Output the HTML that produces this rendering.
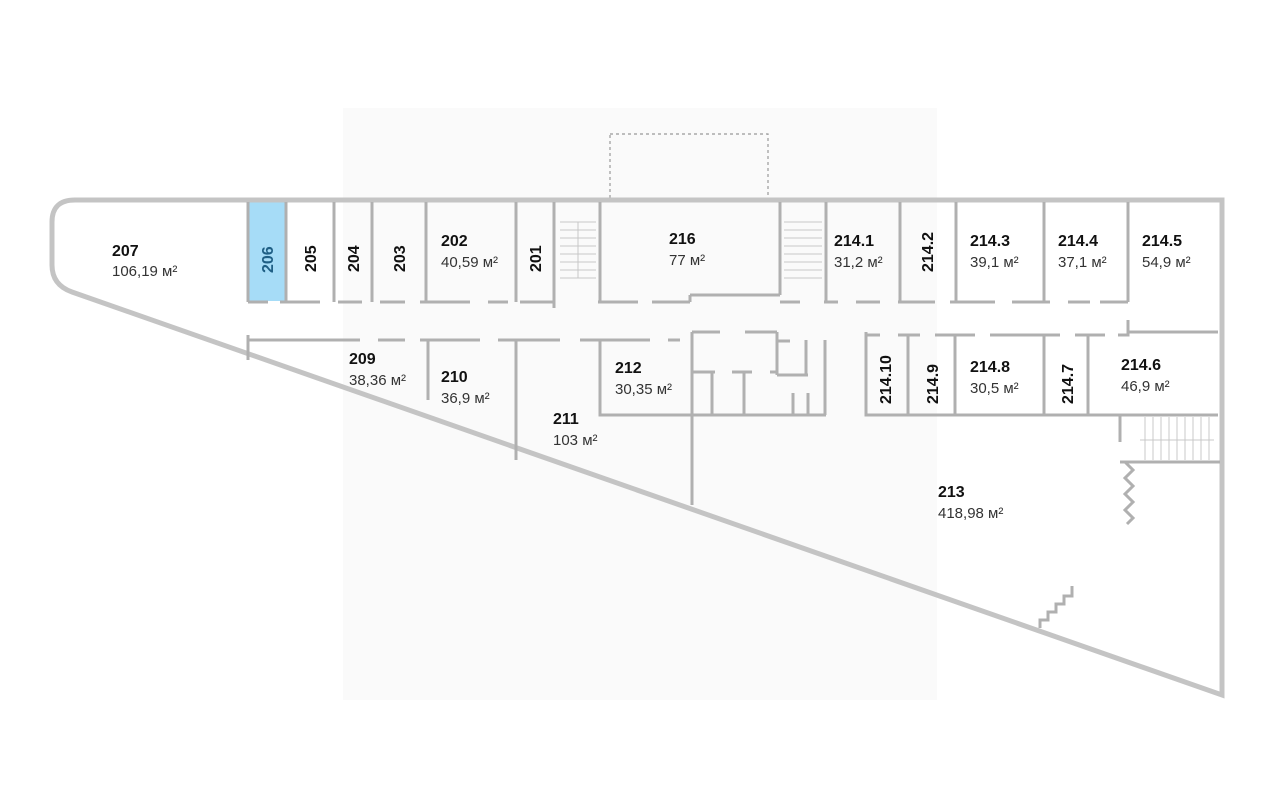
<!DOCTYPE html>
<html><head><meta charset="utf-8"><style>
body{margin:0;background:#fff;width:1280px;height:811px;overflow:hidden}
svg{display:block}
text{font-family:"Liberation Sans",sans-serif;fill:#111}
.b{font-weight:bold;font-size:16px}
.a{font-size:15px;fill:#333}
</style></head><body>
<svg width="1280" height="811" viewBox="0 0 1280 811">
<rect x="343" y="108" width="594" height="592" fill="#fafafa"/>
<rect x="610" y="134" width="158" height="66" fill="none" stroke="#999" stroke-width="1.2" stroke-dasharray="3,3"/>
<rect x="249" y="202" width="36" height="99" fill="#a6dcf7"/>
<g fill="none" stroke="#c4c4c4" stroke-width="5">
<path d="M75 200 H1222 V695 L72 292 Q52 285 52 265 V222 Q52 200 75 200"/>
</g>
<g fill="none" stroke="#b0b0b0" stroke-width="3">
<path d="M248 202V302 M286 202V302 M334 202V302 M372 202V302 M426 202V302 M516 202V302 M554 202V308 M600 202V302 M780 202V295 M826 202V302 M900 202V302 M956 202V302 M1044 202V302 M1128 202V302"/>
<path d="M690 295H780 M690 295V302"/>
<path d="M248 302H268 M280 302H320 M338 302H362 M380 302H405 M420 302H470 M488 302H508 M520 302H554 M598 302H638 M652 302H690 M780 302H800 M824 302H838 M856 302H880 M898 302H935 M950 302H995 M1012 302H1050 M1068 302H1090 M1100 302H1128"/>
<path d="M248 340H360 M378 340H405 M420 340H480 M498 340H560 M580 340H600 M600 340H650 M668 340H680 M692 332H720 M745 332H777 M777 332V375"/>
<path d="M248 335V360"/>
<path d="M428 340V400 M516 340V460 M600 340V415H692 M692 332V505"/>
<path d="M692 372H715 M712 372V415 M732 372H752 M744 372V415 M770 372H778 M777 375H808 M778 341H790 M806 340V375 M825 340V415 M692 415H826 M793 393V415 M808 393V415"/>
<path d="M866 332V415H1218 M866 335H880 M898 335H920 M935 335H975 M990 335H1060 M1075 335H1105 M1118 335H1128 V330 M1128 332H1218"/>
<path d="M1128 320V332 M908 335V415 M955 335V415 M1044 335V415 M1088 335V415"/>
<path d="M1120 415V442 M1120 462H1220"/>
<path d="M1125 462 l8 8 l-8 8 l8 8 l-8 8 l8 8 l-8 8 l8 8 l-6 6"/>
<path d="M1040 628 V620 H1048 V612 H1056 V604 H1064 V596 H1072 V586"/>
</g>
<g stroke="#c8c8c8" stroke-width="1">
<path d="M560 222H596M560 230H596M560 238H596M560 246H596M560 254H596M560 262H596M560 270H596M560 278H596M578 222V278"/>
<path d="M784 222H822M784 230H822M784 238H822M784 246H822M784 254H822M784 262H822M784 270H822M784 278H822"/>
<path d="M1145 417V460M1153 417V460M1161 417V460M1169 417V460M1177 417V460M1185 417V460M1193 417V460M1201 417V460M1209 417V460M1140 440H1214"/>
</g>
<text class="b" x="112" y="256">207</text><text class="a" x="112" y="276">106,19 м²</text>
<text class="b" x="441" y="246">202</text><text class="a" x="441" y="267">40,59 м²</text>
<text class="b" x="669" y="244">216</text><text class="a" x="669" y="265">77 м²</text>
<text class="b" x="834" y="246">214.1</text><text class="a" x="834" y="267">31,2 м²</text>
<text class="b" x="970" y="246">214.3</text><text class="a" x="970" y="267">39,1 м²</text>
<text class="b" x="1058" y="246">214.4</text><text class="a" x="1058" y="267">37,1 м²</text>
<text class="b" x="1142" y="246">214.5</text><text class="a" x="1142" y="267">54,9 м²</text>
<text class="b" x="349" y="364">209</text><text class="a" x="349" y="385">38,36 м²</text>
<text class="b" x="441" y="382">210</text><text class="a" x="441" y="403">36,9 м²</text>
<text class="b" x="615" y="373">212</text><text class="a" x="615" y="394">30,35 м²</text>
<text class="b" x="553" y="424">211</text><text class="a" x="553" y="445">103 м²</text>
<text class="b" x="970" y="372">214.8</text><text class="a" x="970" y="393">30,5 м²</text>
<text class="b" x="1121" y="370">214.6</text><text class="a" x="1121" y="391">46,9 м²</text>
<text class="b" x="938" y="497">213</text><text class="a" x="938" y="518">418,98 м²</text>
<text class="b" transform="translate(273,273) rotate(-90)" style="fill:#1f5f85">206</text>
<text class="b" transform="translate(316,272) rotate(-90)">205</text>
<text class="b" transform="translate(359,272) rotate(-90)">204</text>
<text class="b" transform="translate(405,272) rotate(-90)">203</text>
<text class="b" transform="translate(541,272) rotate(-90)">201</text>
<text class="b" transform="translate(933,272) rotate(-90)">214.2</text>
<text class="b" transform="translate(891,404) rotate(-90)">214.10</text>
<text class="b" transform="translate(938,404) rotate(-90)">214.9</text>
<text class="b" transform="translate(1073,404) rotate(-90)">214.7</text>
</svg>
</body></html>
